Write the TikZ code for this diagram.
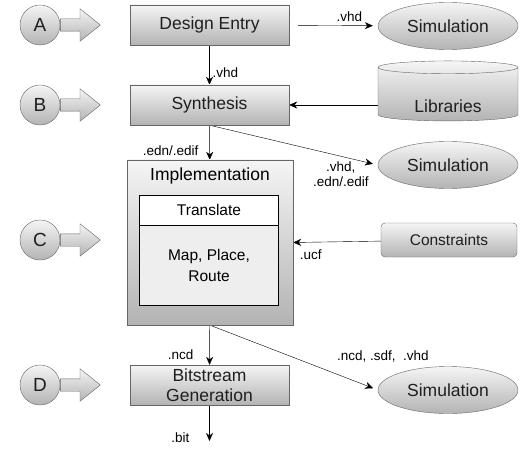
\documentclass[tikz,border=0pt]{standalone}
\usepackage{fontspec}
\setmainfont{Liberation Sans}
\usetikzlibrary{shapes.geometric, shapes.arrows, shapes.symbols, arrows.meta, backgrounds}
\definecolor{gtop}{HTML}{F5F5F5}
\definecolor{gbot}{HTML}{B3B3B3}
\definecolor{gline}{HTML}{666666}
\definecolor{inner}{HTML}{EEEEEE}
\tikzset{
  shaded/.style = {
    draw=gline, top color=gtop, bottom color=gbot, text=black!88
  },
  stage/.style = {
    shaded, rectangle, minimum width=159pt, minimum height=40pt,
    inner ysep=1pt, align=center, font=\fontsize{17.5}{20}\selectfont
  },
  marker/.style = {
    shaded, circle, minimum size=40pt, inner sep=0pt,
    font=\fontsize{19}{22}\selectfont
  },
  blockarr/.style = {
    shaded, single arrow, minimum height=40pt, inner xsep=0pt,
    inner ysep=6pt, single arrow head extend=10pt,
    single arrow tip angle=77, anchor=tail
  },
  sim/.style = {
    shaded, ellipse, minimum width=140pt, minimum height=47pt,
    font=\fontsize{17.5}{20}\selectfont
  },
  lbl/.style = {
    font=\fontsize{13.5}{15}\selectfont, inner sep=1pt, align=center
  },
  flow/.style = { draw=black, -{Stealth[length=8pt, width=7pt]} }
}

\begin{document}
\begin{tikzpicture}[x=1pt, y=-1pt]
    \useasboundingbox (0,0) rectangle (526,454);

    % ------------------------------------------------------------- Markers
    \node [marker] (mA) at (40, 25)  {A};
    \node [marker] (mB) at (40, 105) {B};
    \node [marker] (mC) at (40, 240) {C};
    \node [marker] (mD) at (40, 385) {D};
    \node [blockarr] (arrA) at (mA.east) {};
    \node [blockarr] (arrB) at (mB.east) {};
    \node [blockarr] (arrC) at (mC.east) {};
    \node [blockarr] (arrD) at (mD.east) {};

    % -------------------------------------------------------------- Stages
    \node [stage] (entry)  at (209.5, 25)  {Design Entry};
    \node [stage] (synth)  at (209.5, 105) {Synthesis};
    \node [stage] (bitgen) at (209.5, 385) {Bitstream\\Generation};

    % ------------------------------------------------------ Implementation
    \node [shaded, rectangle, minimum width=166pt, minimum height=165pt]
          (impl) at (210, 242.5) {};
    \node [font=\fontsize{17.5}{20}\selectfont] (impl_title) at (210, 176) {Implementation};
    \node [rectangle, draw=black, fill=white, minimum width=139pt, minimum height=30pt,
           font=\fontsize{15.5}{18}\selectfont] (translate) at (209, 210) {Translate};
    \node [rectangle, draw=black, fill=inner, minimum width=139pt, minimum height=80pt,
           align=center, font=\fontsize{15.5}{21}\selectfont] (mpr) at (209, 265) {Map, Place,\\Route};

    % ------------------------------------------------------- Side entities
    \node [sim] (sim1) at (448, 26)  {Simulation};
    \node [sim] (sim2) at (448, 165) {Simulation};
    \node [sim] (sim3) at (448, 390) {Simulation};
    \node [shaded, cylinder, shape border rotate=90, aspect=0.18, inner sep=2pt,
           minimum width=140pt, minimum height=60pt, text height=36pt,
           font=\fontsize{17.5}{20}\selectfont] (lib) at (448, 95) {Libraries};
    \node [shaded, rectangle, rounded corners=4pt, minimum width=136pt, minimum height=34pt,
           font=\fontsize{15.5}{18}\selectfont] (constr) at (449, 240) {Constraints};
    \coordinate (bitend) at (209.5, 441);

    % ----------------------------------------------------------- Connectors
    \begin{scope}[on background layer]
      \draw [flow, shorten <=9pt, shorten >=5pt] (entry) -- (sim1)
            node [lbl, above=3pt, pos=0.68] {.vhd};
      \draw [flow] (entry) -- (synth) node [lbl, right=2pt, pos=0.7] {.vhd};
      \draw [flow] (lib.west |- synth.east) -- (synth.east);
      \draw [flow] (synth) -- (impl) node [lbl, left=10pt, pos=0.75] {.edn/.edif};
      \draw [flow, shorten >=5pt] (synth.south) -- (sim2.west)
            node [lbl, below=4pt, pos=0.78] {.vhd,\\.edn/.edif};
      \draw [flow] (constr) -- (impl.east) node [lbl, below=6pt, pos=0.8] {.ucf};
      \draw [flow] (impl) -- (bitgen) node [lbl, left=15pt, pos=0.75] {.ncd};
      \draw [flow, shorten >=5pt] (impl.south) -- (sim3.west)
            node [lbl, pos=1, anchor=south, yshift=27pt, xshift=5pt] {.ncd, .sdf,\ \ .vhd};
      \draw [flow] (bitgen) -- (bitend) node [lbl, left=19pt, pos=0.9] {.bit};
    \end{scope}

\end{tikzpicture}
\end{document}
